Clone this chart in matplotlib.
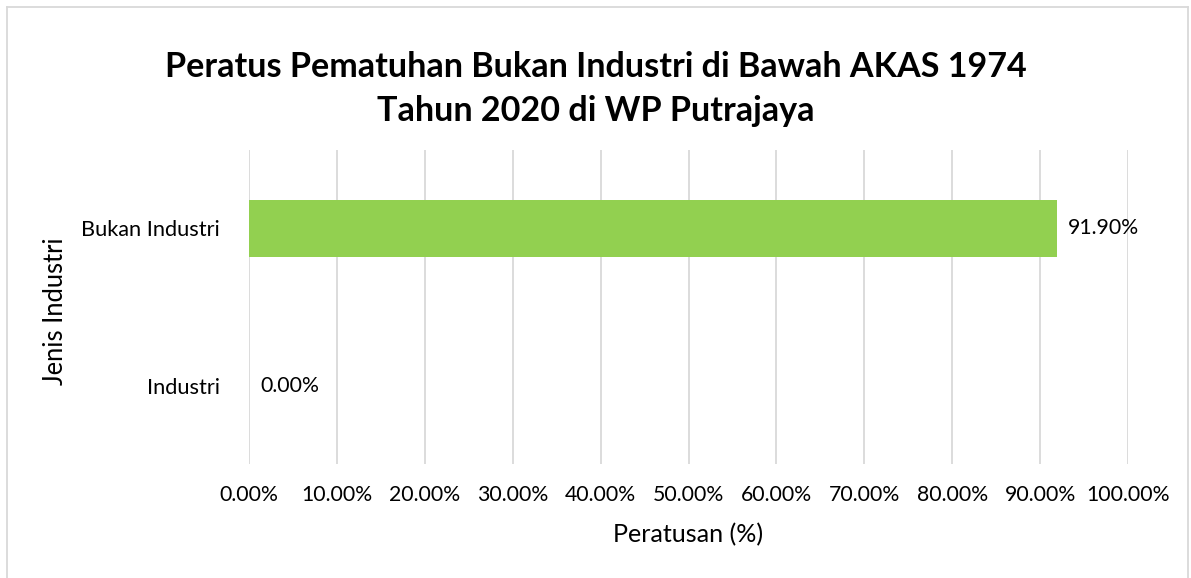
import matplotlib
matplotlib.use("Agg")
import matplotlib.pyplot as plt
from matplotlib.lines import Line2D

categories = ["Industri", "Bukan Industri"]
values = [0.0, 91.90]
xticks = [0, 10, 20, 30, 40, 50, 60, 70, 80, 90, 100]
title_lines = ["Peratus Pematuhan Bukan Industri di Bawah AKAS 1974",
               "Tahun 2020 di WP Putrajaya"]
xlabel = "Peratusan (%)"
ylabel = "Jenis Industri"

plt.rcParams['font.family'] = ['Lato', 'DejaVu Sans']

W, H = 1191, 578
DPI = 100
fig = plt.figure(figsize=(W/DPI, H/DPI), dpi=DPI)
renderer = fig.canvas.get_renderer()


def fit_size(text, target_px, weight='normal', base=12.0):
    t = fig.text(0, 0, text, fontsize=base, fontweight=weight)
    w = t.get_window_extent(renderer).width
    t.remove()
    return base * target_px / w


tick_fs = fit_size("Bukan Industri", 138)
xt_fs = fit_size("10.00%", 71)
lab_fs = fit_size(xlabel, 150)
ylab_fs = fit_size(ylabel, 147)
title_fs = fit_size(title_lines[0], 860, weight='bold')

ax = fig.add_axes([249/W, 1-464/H, (1128-249)/W, (464-150)/H])

ax.barh(range(len(categories)), values, height=0.36, color="#92d050", zorder=3)
ax.set_xlim(0, 100)
ax.set_ylim(-0.5, 1.5)
ax.set_yticks(range(len(categories)))
ax.set_yticklabels(categories, fontsize=tick_fs, color="#000000")
ax.set_xticks(xticks)
ax.set_xticklabels([f"{t:.2f}%" for t in xticks], fontsize=xt_fs, color="#000000")
ax.grid(axis='x', color="#d9d9d9", linewidth=1.3, zorder=0)
for s in ax.spines.values():
    s.set_visible(False)
ax.tick_params(axis='x', length=0, pad=15)
ax.tick_params(axis='y', length=0, pad=21)

for i, v in enumerate(values):
    ax.annotate(f"{v:.2f}%", xy=(v, i), xytext=(8, 0), textcoords='offset points',
                va='center', ha='left', fontsize=xt_fs, color="#000000")

ax.set_xlabel(xlabel, fontsize=lab_fs, va='center', ha='center')
ax.xaxis.set_label_coords((688-249)/879, -(535-464)/314)
ax.set_ylabel(ylabel, fontsize=ylab_fs, va='center', ha='center')
ax.yaxis.set_label_coords((56-249)/879, (464-311)/314)

fig.text(0.5, 1-77/H, title_lines[0], ha='center', va='baseline',
         fontsize=title_fs, fontweight='bold')
fig.text(0.5, 1-121/H, title_lines[1], ha='center', va='baseline',
         fontsize=title_fs, fontweight='bold')

# chart-area border (bottom edge falls outside the image)
bc = "#d9d9d9"
fig.add_artist(Line2D([6.5/W, 6.5/W], [0, 1-6.5/H], transform=fig.transFigure, color=bc, lw=1.3))
fig.add_artist(Line2D([6.5/W, 1187.5/W], [1-6.5/H, 1-6.5/H], transform=fig.transFigure, color=bc, lw=1.3))
fig.add_artist(Line2D([1187.5/W, 1187.5/W], [0, 1-6.5/H], transform=fig.transFigure, color=bc, lw=1.3))

fig.savefig("out.png", dpi=DPI)
